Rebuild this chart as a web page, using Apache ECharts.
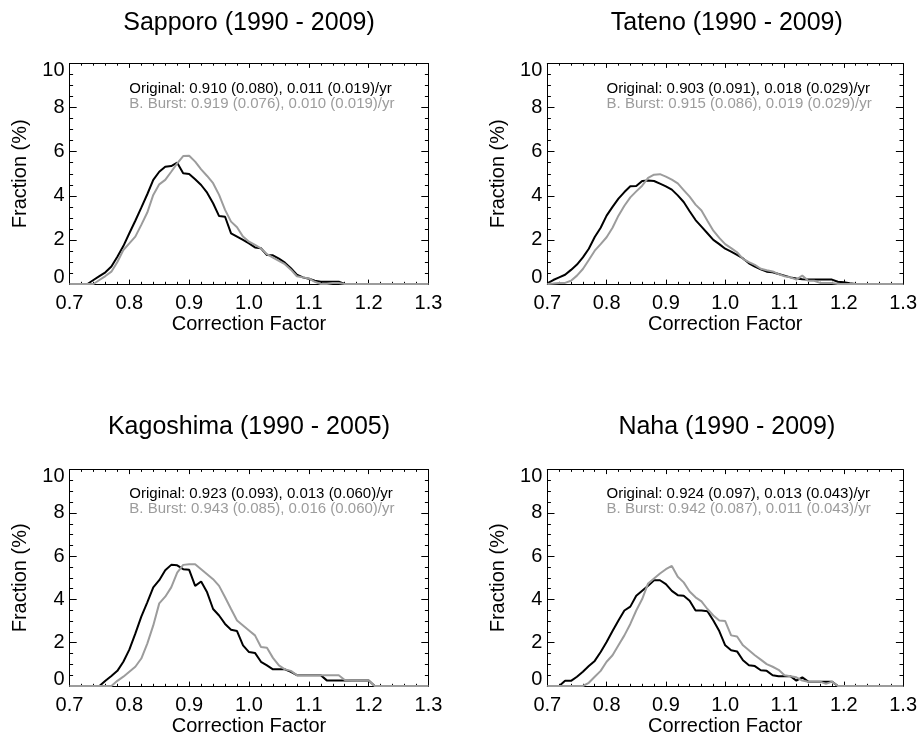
<!DOCTYPE html>
<html>
<head>
<meta charset="utf-8">
<script src="https://cdn.jsdelivr.net/npm/echarts@6/dist/echarts.min.js"></script>
<style>
html,body{margin:0;padding:0;background:#fff;}
#chart{width:920px;height:737px;}
</style>
</head>
<body>
<div id="chart"></div>
<script>
// Bin centres (Correction Factor), 0.70 ... 1.30 step 0.01
var bins = [0.70,0.71,0.72,0.73,0.74,0.75,0.76,0.77,0.78,0.79,
            0.80,0.81,0.82,0.83,0.84,0.85,0.86,0.87,0.88,0.89,
            0.90,0.91,0.92,0.93,0.94,0.95,0.96,0.97,0.98,0.99,
            1.00,1.01,1.02,1.03,1.04,1.05,1.06,1.07,1.08,1.09,
            1.10,1.11,1.12,1.13,1.14,1.15,1.16,1.17,1.18,1.19,
            1.20,1.21,1.22,1.23,1.24,1.25,1.26,1.27,1.28,1.29,1.30];

var panelTitles = ["Sapporo (1990 - 2009)", "Tateno (1990 - 2009)", "Kagoshima (1990 - 2005)", "Naha (1990 - 2009)"];
var originalLabels = ["Original: 0.910 (0.080), 0.011 (0.019)/yr", "Original: 0.903 (0.091), 0.018 (0.029)/yr",
                      "Original: 0.923 (0.093), 0.013 (0.060)/yr", "Original: 0.924 (0.097), 0.013 (0.043)/yr"];
var burstLabels = ["B. Burst: 0.919 (0.076), 0.010 (0.019)/yr", "B. Burst: 0.915 (0.086), 0.019 (0.029)/yr",
                   "B. Burst: 0.943 (0.085), 0.016 (0.060)/yr", "B. Burst: 0.942 (0.087), 0.011 (0.043)/yr"];
var xTickValues = [0.7, 0.8, 0.9, 1.0, 1.1, 1.2, 1.3];
var yTickValues = [0, 2, 4, 6, 8, 10];

// Fraction (%) per bin
var sapporoOriginal = [0,0,0,0,0.18,0.36,0.53,0.79,1.24,1.72,
                       2.30,2.87,3.46,4.07,4.72,5.09,5.32,5.35,5.50,5.02,
                       4.99,4.75,4.49,4.14,3.66,3.08,3.05,2.30,2.15,2.00,
                       1.84,1.66,1.62,1.31,1.30,1.15,0.97,0.72,0.42,0.30,
                       0.24,0.15,0.10,0.10,0.10,0.10,0,0,0,0,
                       0,0,0,0,0,0,0,0,0,0,0];
var sapporoBurst = [0,0,0,0,0,0.18,0.36,0.56,1.00,1.54,
                    1.84,2.15,2.68,3.24,4.04,4.52,4.72,5.09,5.47,5.80,
                    5.82,5.55,5.20,4.90,4.57,4.04,3.36,2.83,2.57,2.15,
                    1.92,1.77,1.62,1.35,1.20,1.05,0.90,0.65,0.35,0.30,
                    0.25,0.10,0,0,0.05,0.05,0,0,0,0,
                    0,0,0,0,0,0,0,0,0,0,0];
var tatenoOriginal = [0.03,0.18,0.30,0.42,0.64,0.88,1.21,1.60,2.13,2.55,
                      3.10,3.50,3.87,4.17,4.43,4.44,4.67,4.69,4.67,4.55,
                      4.43,4.28,4.02,3.72,3.30,2.90,2.60,2.30,2.00,1.81,
                      1.60,1.47,1.32,1.16,0.94,0.79,0.67,0.56,0.53,0.45,
                      0.38,0.30,0.25,0.22,0.20,0.20,0.20,0.20,0.20,0.10,
                      0.08,0.03,0,0,0,0,0,0,0,0,0];
var tatenoBurst = [0,0.02,0.05,0.05,0.15,0.38,0.68,1.09,1.51,1.81,
                   2.12,2.55,3.10,3.55,3.93,4.20,4.46,4.81,4.96,4.98,
                   4.87,4.73,4.56,4.26,3.96,3.60,3.33,2.87,2.42,2.09,
                   1.81,1.63,1.44,1.14,0.99,0.87,0.69,0.62,0.57,0.45,
                   0.35,0.30,0.20,0.38,0.15,0.15,0.05,0.05,0.05,0,
                   0,0,0,0,0,0,0,0,0,0,0];
var kagoshimaOriginal = [0,0,0,0,0,0,0.24,0.46,0.70,1.12,
                         1.68,2.42,3.21,3.87,4.56,4.89,5.35,5.60,5.58,5.40,
                         5.37,4.63,4.83,4.33,3.56,3.26,2.87,2.60,2.54,1.88,
                         1.57,1.53,1.12,0.95,0.77,0.77,0.77,0.65,0.50,0.50,
                         0.50,0.50,0.50,0.26,0.26,0.26,0.26,0.26,0.26,0.26,
                         0.26,0,0,0,0,0,0,0,0,0,0];
var kagoshimaBurst = [0,0,0,0,0,0,0,0,0.24,0.43,
                      0.66,0.89,1.27,1.96,2.80,3.82,4.13,4.56,5.24,5.60,
                      5.63,5.63,5.40,5.17,4.94,4.63,4.10,3.56,3.03,2.80,
                      2.57,2.34,1.80,1.77,1.30,0.95,0.77,0.70,0.50,0.50,
                      0.50,0.50,0.50,0.50,0.50,0.50,0.28,0.26,0.26,0.26,
                      0.26,0,0,0,0,0,0,0,0,0,0];
var nahaOriginal = [0,0,0,0.24,0.24,0.43,0.66,0.92,1.16,1.57,
                    2.03,2.54,3.03,3.49,3.67,4.17,4.40,4.63,4.89,4.89,
                    4.71,4.40,4.20,4.17,3.94,3.49,3.49,3.46,3.03,2.54,
                    1.88,1.65,1.60,1.19,0.96,0.92,0.73,0.70,0.50,0.45,
                    0.45,0.45,0.25,0.40,0.20,0.20,0.20,0.20,0.20,0,
                    0,0,0,0,0,0,0,0,0,0,0];
var nahaBurst = [0,0,0,0,0,0,0,0.15,0.43,0.70,
                 1.12,1.42,1.88,2.34,2.87,3.49,4.02,4.74,4.97,5.20,
                 5.40,5.55,5.05,4.79,4.37,4.10,3.91,3.56,3.26,3.03,
                 3.00,2.34,2.29,1.88,1.65,1.42,1.22,1.01,0.89,0.75,
                 0.50,0.45,0.40,0.25,0.20,0.20,0.20,0.10,0.20,0,
                 0,0,0,0,0,0,0,0,0,0,0];

var originalSeries = [sapporoOriginal, tatenoOriginal, kagoshimaOriginal, nahaOriginal];
var burstSeries = [sapporoBurst, tatenoBurst, kagoshimaBurst, nahaBurst];

var FONT = "'Liberation Sans', Helvetica, Arial, sans-serif";
var GRAY = "#9c9c9c";

var grids = [
  {left: 69.5, top: 63.5, width: 359, height: 220.5},
  {left: 547.3, top: 63.5, width: 359, height: 220.5},
  {left: 69.5, top: 469.7, width: 359, height: 218},
  {left: 547.3, top: 469.7, width: 359, height: 218}
];

function pairs(vals) {
  return bins.map(function (b, i) { return [b, vals[i]]; });
}

var xAxes = [], yAxes = [], series = [];
grids.forEach(function (g, i) {
  var tickX = Math.round(g.height * 0.02 * 10) / 10;
  var tickY = Math.round(g.width * 0.02 * 10) / 10;
  var common = {
    gridIndex: i, type: 'value', splitLine: {show: false},
    axisLine: {show: true, onZero: false, lineStyle: {color: '#000', width: 1}}
  };
  var xBase = Object.assign({}, common, {
    min: xTickValues[0], max: xTickValues[xTickValues.length - 1], interval: 0.1,
    axisTick: {show: true, inside: true, length: tickX, lineStyle: {color: '#000'}},
    minorTick: {show: true, splitNumber: 5, length: tickX / 2, lineStyle: {color: '#000'}},
    minorSplitLine: {show: false}
  });
  xAxes.push(Object.assign({}, xBase, {
    position: 'bottom',
    name: 'Correction Factor', nameLocation: 'middle', nameGap: 30,
    nameTextStyle: {fontFamily: FONT, fontSize: 20, color: '#000'},
    axisLabel: {show: true, margin: 9, fontFamily: FONT, fontSize: 20, color: '#000',
      formatter: function (v) { return v.toFixed(1); }}
  }));
  xAxes.push(Object.assign({}, xBase, {position: 'top', axisLabel: {show: false}}));
  var yBase = Object.assign({}, common, {
    min: yTickValues[0], max: yTickValues[yTickValues.length - 1], interval: 2,
    axisTick: {show: true, inside: true, length: tickY, lineStyle: {color: '#000'}},
    minorTick: {show: true, splitNumber: 4, length: tickY / 2, lineStyle: {color: '#000'}},
    minorSplitLine: {show: false}
  });
  yAxes.push(Object.assign({}, yBase, {
    position: 'left',
    name: 'Fraction (%)', nameLocation: 'middle', nameGap: 39,
    nameTextStyle: {fontFamily: FONT, fontSize: 20, color: '#000'},
    axisLabel: {show: true, margin: 5, fontFamily: FONT, fontSize: 20, lineHeight: 13, color: '#000',
      verticalAlignMinLabel: 'bottom', verticalAlignMaxLabel: 'top'}
  }));
  yAxes.push(Object.assign({}, yBase, {position: 'right', axisLabel: {show: false}}));

  series.push({
    type: 'line', xAxisIndex: 2 * i, yAxisIndex: 2 * i, data: pairs(originalSeries[i]),
    showSymbol: false, symbol: 'none', lineStyle: {color: '#000', width: 2}, z: 3, silent: true
  });
  series.push({
    type: 'line', xAxisIndex: 2 * i, yAxisIndex: 2 * i, data: pairs(burstSeries[i]),
    showSymbol: false, symbol: 'none', lineStyle: {color: GRAY, width: 2}, z: 4, silent: true
  });
});

var chart = echarts.init(document.getElementById('chart'), null, {renderer: 'canvas'});
chart.setOption({
  animation: false,
  backgroundColor: '#fff',
  grid: grids,
  xAxis: xAxes,
  yAxis: yAxes,
  series: series
});

// Titles and annotation text placed relative to each grid
var graphics = [];
grids.forEach(function (g, i) {
  var titleY = i < 2 ? 23.5 : 427;
  graphics.push({
    type: 'text', x: g.left + g.width / 2, y: titleY,
    style: {text: panelTitles[i], font: '25px ' + FONT, fill: '#000', textAlign: 'center', textVerticalAlign: 'middle'}
  });
  var p1 = chart.convertToPixel({gridIndex: i}, [0.8, 8.87]);
  var p2 = chart.convertToPixel({gridIndex: i}, [0.8, 8.18]);
  graphics.push({
    type: 'text', x: p1[0], y: p1[1],
    style: {text: originalLabels[i], font: '15px ' + FONT, fill: '#000', textAlign: 'left', textVerticalAlign: 'middle'}
  });
  graphics.push({
    type: 'text', x: p2[0], y: p2[1],
    style: {text: burstLabels[i], font: '15px ' + FONT, fill: GRAY, textAlign: 'left', textVerticalAlign: 'middle'}
  });
});
chart.setOption({graphic: graphics});
</script>
</body>
</html>
